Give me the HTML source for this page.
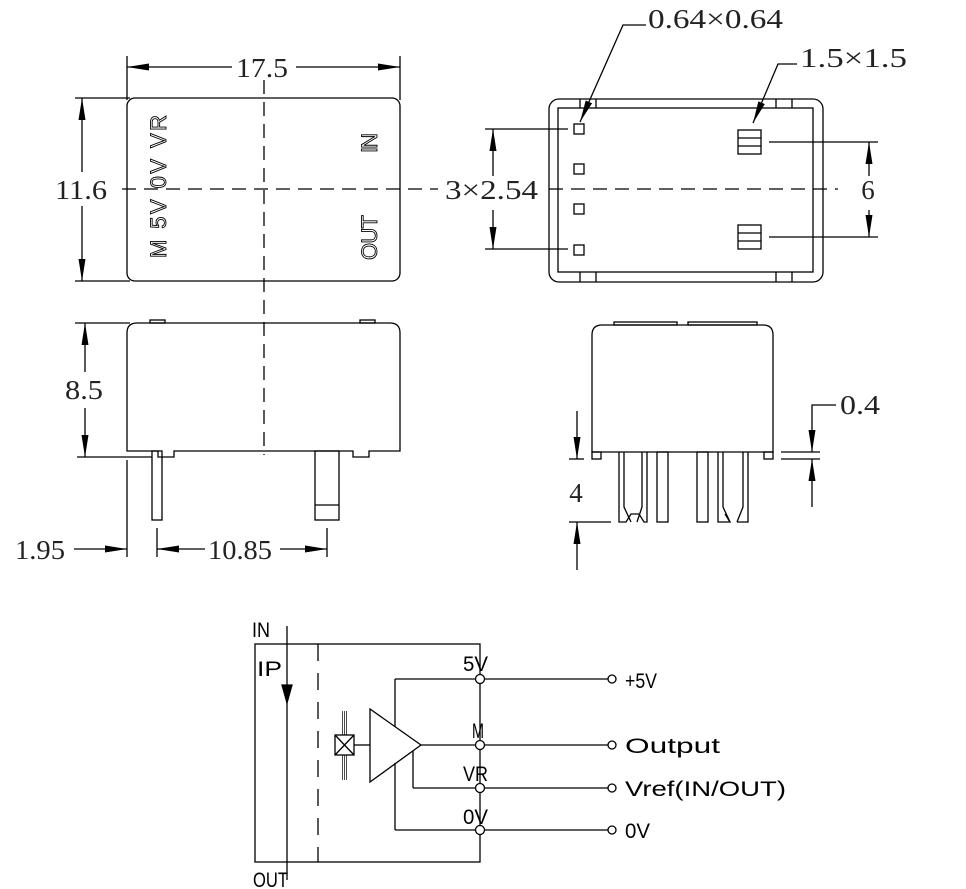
<!DOCTYPE html>
<html><head><meta charset="utf-8"><style>
html,body{margin:0;padding:0;background:#fff;}
svg{display:block}
.d{font-family:"Liberation Serif","Noto Serif CJK SC",serif;font-size:27px;fill:#222;}
.s{font-family:"Liberation Sans",sans-serif;font-size:21px;fill:#000;}
</style></head><body>
<svg width="966" height="889" viewBox="0 0 966 889" xmlns="http://www.w3.org/2000/svg">
<defs><path id="ar" d="M0,0 L-22,-3.5 L-22,3.5 Z" fill="#000"/></defs>
<g fill="none" stroke="#000" stroke-width="1.3">
<rect x="127" y="98" width="273" height="183" rx="8"/>
<line x1="127" y1="56" x2="127" y2="100"/><line x1="400" y1="56" x2="400" y2="100"/>
<line x1="127" y1="67" x2="232" y2="67"/>
<line x1="296" y1="67" x2="400" y2="67"/>
<line x1="75" y1="98" x2="130" y2="98"/><line x1="75" y1="281" x2="130" y2="281"/>
<line x1="82" y1="98" x2="82" y2="172"/>
<line x1="82" y1="206" x2="82" y2="281"/>
<line x1="264" y1="80" x2="264" y2="455" stroke-dasharray="14,8"/>
<line x1="122" y1="189" x2="438" y2="189" stroke-dasharray="14,8"/>
<line x1="549" y1="189" x2="838" y2="189" stroke-dasharray="14,8"/>
<path d="M127,451 L127,333 Q127,323 137,323 L390,323 Q400,323 400,333 L400,451 L369,451 L369,457 L353,457 L353,451 L174,451 L174,457 L158,457 L158,451 Z"/>
<rect x="150" y="320" width="15" height="3"/><rect x="360" y="320" width="15" height="3"/>
<rect x="152" y="451" width="10" height="69"/>
<rect x="315" y="451" width="24" height="69"/><line x1="315" y1="505" x2="339" y2="505"/>
<line x1="75" y1="323" x2="130" y2="323"/><line x1="77" y1="457" x2="152" y2="457"/>
<line x1="85" y1="323" x2="85" y2="372"/>
<line x1="85" y1="408" x2="85" y2="457"/>
<line x1="127" y1="460" x2="127" y2="557"/><line x1="157" y1="528" x2="157" y2="557"/><line x1="327" y1="528" x2="327" y2="557"/>
<line x1="74" y1="549" x2="127" y2="549"/>
<line x1="157" y1="549" x2="205" y2="549"/>
<line x1="280" y1="549" x2="327" y2="549"/>
<!-- top view right -->
<rect x="549" y="99" width="274" height="183" rx="10"/>
<rect x="558" y="108" width="255" height="164"/>
<line x1="580" y1="99" x2="580" y2="108"/><line x1="596" y1="99" x2="596" y2="108"/>
<line x1="776" y1="99" x2="776" y2="108"/><line x1="792" y1="99" x2="792" y2="108"/>
<line x1="580" y1="272" x2="580" y2="282"/><line x1="596" y1="272" x2="596" y2="282"/>
<line x1="776" y1="272" x2="776" y2="282"/><line x1="792" y1="272" x2="792" y2="282"/>
<g fill="#fff">
<rect x="574" y="124" width="10" height="10"/><rect x="574" y="164" width="10" height="10"/>
<rect x="574" y="204" width="10" height="10"/><rect x="574" y="245" width="10" height="10"/>
</g>
<rect x="738" y="130" width="23" height="24"/><line x1="738" y1="138" x2="761" y2="138"/><line x1="738" y1="146" x2="761" y2="146"/>
<rect x="738" y="225" width="23" height="24"/><line x1="738" y1="233" x2="761" y2="233"/><line x1="738" y1="241" x2="761" y2="241"/>
<line x1="485" y1="129" x2="568" y2="129"/><line x1="485" y1="249" x2="568" y2="249"/>
<line x1="493" y1="129" x2="493" y2="176"/>
<line x1="493" y1="210" x2="493" y2="249"/>
<line x1="769" y1="142" x2="878" y2="142"/><line x1="769" y1="237" x2="878" y2="237"/>
<line x1="869" y1="142" x2="869" y2="176"/>
<line x1="869" y1="210" x2="869" y2="237"/>
<polyline points="646,25 623,25 580,122"/>
<polyline points="797,64 778,64 753,123"/>
<!-- side view right -->
<path d="M592,452 L592,335 Q592,325 602,325 L763,325 Q773,325 773,335 L773,452 Z"/>
<rect x="614" y="322" width="63" height="3"/><rect x="688" y="322" width="69" height="3"/>
<rect x="592" y="452" width="9" height="7"/><rect x="764" y="452" width="9" height="7"/>
<path d="M619,452 L619,522 L626,522 L631,514 L639,514 L644,522 L647,522 L647,452"/>
<path d="M624,452 L624,507 L631,522 M642,452 L642,507 L637,522"/>
<rect x="657" y="452" width="11" height="70"/><rect x="697" y="452" width="11" height="70"/>
<path d="M718,452 L718,522 L730,522 L725,514 M748,452 L748,522 L737,522"/>
<path d="M723,452 L723,507 L730,522 M743,452 L743,507 L737,522"/>
<line x1="569" y1="459" x2="584" y2="459"/><line x1="569" y1="522" x2="611" y2="522"/>
<line x1="577" y1="411" x2="577" y2="459"/>
<line x1="577" y1="570" x2="577" y2="522"/>
<line x1="781" y1="452" x2="820" y2="452"/><line x1="781" y1="459" x2="820" y2="459"/>
<polyline points="836,405 812,405 812,452"/>
<line x1="812" y1="507" x2="812" y2="459"/>
<!-- schematic -->
<rect x="255" y="644" width="225" height="218"/>
<line x1="287" y1="626" x2="287" y2="880"/>
<path d="M282,685 L292,685 L287,703 Z" fill="#000"/>
<line x1="318" y1="644" x2="318" y2="862" stroke-dasharray="17,12"/>
<polygon points="370,709 421,745 370,782"/>
<line x1="395" y1="679" x2="395" y2="727"/>
<line x1="413" y1="751" x2="413" y2="788"/>
<line x1="395" y1="763" x2="395" y2="830"/>
<line x1="395" y1="679" x2="476" y2="679"/>
<line x1="421" y1="745" x2="476" y2="745"/>
<line x1="413" y1="788" x2="476" y2="788"/>
<line x1="395" y1="830" x2="476" y2="830"/>
<rect x="335" y="735" width="19" height="20"/><line x1="335" y1="735" x2="354" y2="755"/><line x1="354" y1="735" x2="335" y2="755"/>
<line x1="354" y1="745" x2="370" y2="745"/>
<g stroke-width="0.7">
<line x1="342.5" y1="711" x2="342.5" y2="735"/><line x1="344.5" y1="711" x2="344.5" y2="735"/><line x1="346.5" y1="711" x2="346.5" y2="735"/>
<line x1="342.5" y1="755" x2="342.5" y2="780"/><line x1="344.5" y1="755" x2="344.5" y2="780"/><line x1="346.5" y1="755" x2="346.5" y2="780"/>
</g>
<g fill="#fff">
<line x1="484" y1="679" x2="608" y2="679"/><line x1="484" y1="745" x2="608" y2="745"/>
<line x1="484" y1="788" x2="608" y2="788"/><line x1="484" y1="830" x2="608" y2="830"/>
<circle cx="480" cy="679" r="4.5"/><circle cx="480" cy="745" r="4.5"/><circle cx="480" cy="788" r="4.5"/><circle cx="480" cy="830" r="4.5"/>
<circle cx="612" cy="679" r="4"/><circle cx="612" cy="745" r="4"/><circle cx="612" cy="788" r="4"/><circle cx="612" cy="830" r="4"/>
</g>
</g>
<use href="#ar" transform="translate(127,67) rotate(180)"/>
<use href="#ar" transform="translate(400,67)"/>
<use href="#ar" transform="translate(82,98) rotate(-90)"/>
<use href="#ar" transform="translate(82,281) rotate(90)"/>
<use href="#ar" transform="translate(85,323) rotate(-90)"/>
<use href="#ar" transform="translate(85,457) rotate(90)"/>
<use href="#ar" transform="translate(127,549)"/>
<use href="#ar" transform="translate(157,549) rotate(180)"/>
<use href="#ar" transform="translate(327,549)"/>
<use href="#ar" transform="translate(493,129) rotate(-90)"/>
<use href="#ar" transform="translate(493,249) rotate(90)"/>
<use href="#ar" transform="translate(869,142) rotate(-90)"/>
<use href="#ar" transform="translate(869,237) rotate(90)"/>
<use href="#ar" transform="translate(580,122) rotate(113.9)"/>
<use href="#ar" transform="translate(753,123) rotate(113)"/>
<use href="#ar" transform="translate(577,459) rotate(90)"/>
<use href="#ar" transform="translate(577,522) rotate(-90)"/>
<use href="#ar" transform="translate(812,452) rotate(90)"/>
<use href="#ar" transform="translate(812,459) rotate(-90)"/>
<rect x="232" y="55" width="64" height="24" fill="#fff"/>
<text class="d" x="236" y="77" textLength="52" lengthAdjust="spacingAndGlyphs">17.5</text>
<text class="d" x="55" y="199" textLength="52" lengthAdjust="spacingAndGlyphs">11.6</text>
<text class="d" x="65" y="399" textLength="38" lengthAdjust="spacingAndGlyphs">8.5</text>
<text class="d" x="15" y="559" textLength="50" lengthAdjust="spacingAndGlyphs">1.95</text>
<text class="d" x="208" y="559" textLength="64" lengthAdjust="spacingAndGlyphs">10.85</text>
<rect x="440" y="177" width="100" height="24" fill="#fff"/>
<text class="d" x="445" y="199" textLength="93" lengthAdjust="spacingAndGlyphs">3×2.54</text>
<rect x="858" y="177" width="20" height="24" fill="#fff"/>
<text class="d" x="868" y="199" text-anchor="middle">6</text>
<text class="d" x="648" y="28" textLength="135" lengthAdjust="spacingAndGlyphs">0.64×0.64</text>
<text class="d" x="800" y="67" textLength="107" lengthAdjust="spacingAndGlyphs">1.5×1.5</text>
<text class="d" x="840" y="414" textLength="40" lengthAdjust="spacingAndGlyphs">0.4</text>
<text class="d" x="576" y="502" text-anchor="middle">4</text>
<g font-family="Liberation Sans,sans-serif" font-size="22" fill="none" stroke="#000" stroke-width="0.9">
<text transform="translate(166,258) rotate(-90)" textLength="143" lengthAdjust="spacing">M 5V 0V VR</text>
<text transform="translate(377,153) rotate(-90)" textLength="20" lengthAdjust="spacing">IN</text>
<text transform="translate(377,260) rotate(-90)" textLength="45" lengthAdjust="spacing">OUT</text>
</g>
<text class="s" x="252" y="637" font-size="18" textLength="18" lengthAdjust="spacingAndGlyphs">IN</text>
<text class="s" x="253" y="887" font-size="18" textLength="35" lengthAdjust="spacingAndGlyphs">OUT</text>
<text class="s" x="257" y="676" font-size="27" textLength="25" lengthAdjust="spacingAndGlyphs">IP</text>
<text class="s" x="463" y="671" textLength="25" lengthAdjust="spacingAndGlyphs">5V</text>
<text class="s" x="472" y="738" textLength="12" lengthAdjust="spacingAndGlyphs">M</text>
<text class="s" x="463" y="781" textLength="25" lengthAdjust="spacingAndGlyphs">VR</text>
<text class="s" x="463" y="824" textLength="25" lengthAdjust="spacingAndGlyphs">0V</text>
<text class="s" x="625" y="688" textLength="32" lengthAdjust="spacingAndGlyphs">+5V</text>
<text class="s" x="625" y="753" textLength="95" lengthAdjust="spacingAndGlyphs">Output</text>
<text class="s" x="625" y="796" textLength="161" lengthAdjust="spacingAndGlyphs">Vref(IN/OUT)</text>
<text class="s" x="625" y="838" textLength="25" lengthAdjust="spacingAndGlyphs">0V</text>
</svg>
</body></html>
